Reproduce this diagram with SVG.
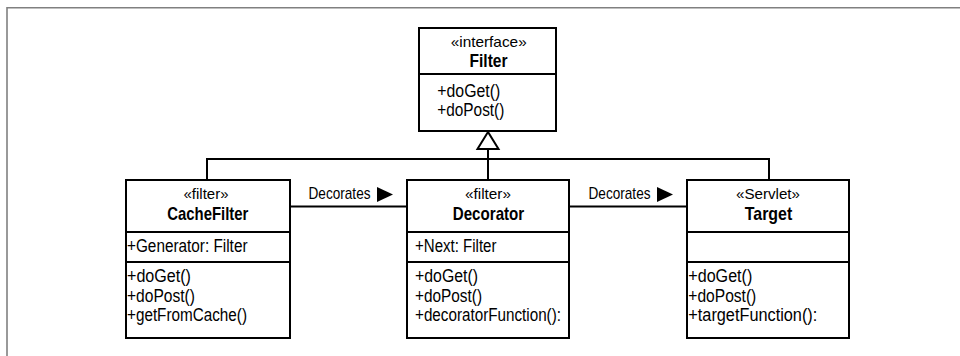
<svg xmlns="http://www.w3.org/2000/svg" width="960" height="356" viewBox="0 0 960 356">
  <defs>
    <style>
      .frame { fill: none; stroke: #808080; stroke-width: 1.6; }
      .box { fill: #ffffff; stroke: #000000; stroke-width: 2; }
      .sep { stroke: #000000; stroke-width: 2; }
      .wire { fill: none; stroke: #000000; stroke-width: 2; }
      text { font-family: "Liberation Sans", Arial, sans-serif; font-size: 17.5px; fill: #000000; }
      .ster { text-anchor: middle; font-size: 14.5px; }
      .name { text-anchor: middle; font-weight: bold; font-size: 19px; }
      .lbl { font-size: 17px; }
    </style>
  </defs>

  <rect width="960" height="356" fill="#ffffff"/>
  <path class="frame" d="M7,356 V7.8 H960"/>

  <!-- generalization and association connectors -->
  <g id="connectors">
    <path class="wire" d="M207,180 V159 H769 V180"/>
    <path class="wire" d="M488,149 V180"/>
    <polygon points="488,132 477.5,149 498.5,149" fill="#ffffff" stroke="#000000" stroke-width="2"/>
    <path class="wire" d="M290,206.5 H407"/>
    <path class="wire" d="M569,206.5 H687"/>
    <text class="lbl" x="308.5" y="199" textLength="62" lengthAdjust="spacingAndGlyphs">Decorates</text>
    <polygon points="377,187 393,194.5 377,202" fill="#000000"/>
    <text class="lbl" x="588.5" y="199" textLength="62" lengthAdjust="spacingAndGlyphs">Decorates</text>
    <polygon points="657,187 673,194.5 657,202" fill="#000000"/>
  </g>

  <!-- interface Filter -->
  <g id="filter">
    <rect class="box" x="419" y="28" width="137" height="103"/>
    <line class="sep" x1="419" y1="74" x2="556" y2="74"/>
    <text class="ster" x="488.7" y="46.5" textLength="76" lengthAdjust="spacingAndGlyphs">«interface»</text>
    <text class="name" x="488.5" y="67" textLength="38" lengthAdjust="spacingAndGlyphs">Filter</text>
    <text x="437.3" y="96.5" textLength="63" lengthAdjust="spacingAndGlyphs">+doGet()</text>
    <text x="437.3" y="116" textLength="67" lengthAdjust="spacingAndGlyphs">+doPost()</text>
  </g>

  <!-- CacheFilter -->
  <g id="cachefilter">
    <rect class="box" x="126" y="180" width="164" height="158"/>
    <line class="sep" x1="126" y1="232" x2="290" y2="232"/>
    <line class="sep" x1="126" y1="262" x2="290" y2="262"/>
    <text class="ster" x="206" y="199" textLength="45" lengthAdjust="spacingAndGlyphs">«filter»</text>
    <text class="name" x="207.8" y="220" textLength="81" lengthAdjust="spacingAndGlyphs">CacheFilter</text>
    <text x="127" y="251.5" textLength="120.5" lengthAdjust="spacingAndGlyphs">+Generator: Filter</text>
    <text x="127" y="281.5" textLength="64" lengthAdjust="spacingAndGlyphs">+doGet()</text>
    <text x="127" y="301.5" textLength="68" lengthAdjust="spacingAndGlyphs">+doPost()</text>
    <text x="127" y="321" textLength="120" lengthAdjust="spacingAndGlyphs">+getFromCache()</text>
  </g>

  <!-- Decorator -->
  <g id="decorator">
    <rect class="box" x="407" y="180" width="162" height="158"/>
    <line class="sep" x1="407" y1="232" x2="569" y2="232"/>
    <line class="sep" x1="407" y1="262" x2="569" y2="262"/>
    <text class="ster" x="488" y="199" textLength="46" lengthAdjust="spacingAndGlyphs">«filter»</text>
    <text class="name" x="488.5" y="220" textLength="71.5" lengthAdjust="spacingAndGlyphs">Decorator</text>
    <text x="415" y="251.5" textLength="81.5" lengthAdjust="spacingAndGlyphs">+Next: Filter</text>
    <text x="415" y="281.5" textLength="63" lengthAdjust="spacingAndGlyphs">+doGet()</text>
    <text x="415" y="301.5" textLength="67" lengthAdjust="spacingAndGlyphs">+doPost()</text>
    <text x="415" y="321" textLength="146" lengthAdjust="spacingAndGlyphs">+decoratorFunction():</text>
  </g>

  <!-- Target servlet -->
  <g id="target">
    <rect class="box" x="687" y="180" width="162" height="158"/>
    <line class="sep" x1="687" y1="232" x2="849" y2="232"/>
    <line class="sep" x1="687" y1="262" x2="849" y2="262"/>
    <text class="ster" x="768" y="199" textLength="64" lengthAdjust="spacingAndGlyphs">«Servlet»</text>
    <text class="name" x="768.5" y="220" textLength="47.5" lengthAdjust="spacingAndGlyphs">Target</text>
    <text x="688.3" y="281.5" textLength="64" lengthAdjust="spacingAndGlyphs">+doGet()</text>
    <text x="688.3" y="301.5" textLength="68" lengthAdjust="spacingAndGlyphs">+doPost()</text>
    <text x="688.3" y="321" textLength="129" lengthAdjust="spacingAndGlyphs">+targetFunction():</text>
  </g>
</svg>
